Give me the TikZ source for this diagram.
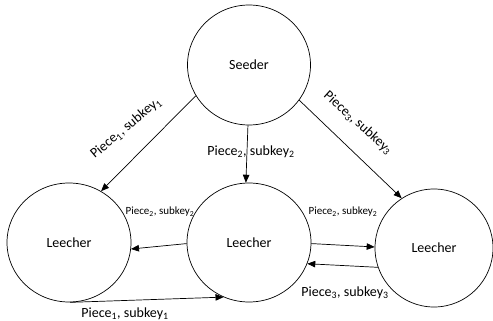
\documentclass[tikz,border=0pt]{standalone}
\usepackage{fontspec}
\setmainfont{Carlito}
\usetikzlibrary{shapes.geometric,arrows.meta}
\begin{document}
\begin{tikzpicture}[x=1pt,y=-1pt,
  peer/.style={draw,ellipse,line width=0.7pt,inner sep=0pt,font=\fontsize{14}{16}\selectfont},
  flow/.style={line width=0.7pt,-{Triangle[length=8pt,width=6.5pt]}},
  big/.style={font=\fontsize{14}{16}\selectfont,inner sep=0pt},
  small/.style={font=\fontsize{11}{13}\selectfont,inner sep=0pt}]
\useasboundingbox (0,0) rectangle (493,321);
\node[peer,minimum width=123pt,minimum height=120pt] (S) at (249,65) {Seeder};
\node[peer,minimum width=124pt,minimum height=119pt] (L) at (69,242.5) {Leecher};
\node[peer,minimum width=124pt,minimum height=119pt] (M) at (249,242.5) {Leecher};
\node[peer,minimum width=118pt,minimum height=118pt] (R) at (434,248) {Leecher};
\draw[flow] (S.210.6) -- (L.58.8);
\draw[flow] (S.269) -- (M.93);
\draw[flow] (S.325.5) -- (R.123.1);
\draw[flow] (M.181.4) -- (L.354.8);
\draw[flow] (M.359.5) -- (R.179);
\draw[flow] (R.199.6) -- (M.340);
\draw[flow] (L.271) -- (M.245.4);
\node[big,rotate=40] (t1) at (126,128) {Piece\textsubscript{1}, subkey\textsubscript{1}};
\node[big] (t2) at (251,152) {Piece\textsubscript{2}, subkey\textsubscript{2}};
\node[big,rotate=-42] (t3) at (358,123) {Piece\textsubscript{3}, subkey\textsubscript{3}};
\node[small] (t4) at (160,212) {Piece\textsubscript{2}, subkey\textsubscript{2}};
\node[small] (t5) at (343,212) {Piece\textsubscript{2}, subkey\textsubscript{2}};
\node[big] (t6) at (345,293) {Piece\textsubscript{3}, subkey\textsubscript{3}};
\node[big] (t7) at (125,314) {Piece\textsubscript{1}, subkey\textsubscript{1}};
\end{tikzpicture}
\end{document}
